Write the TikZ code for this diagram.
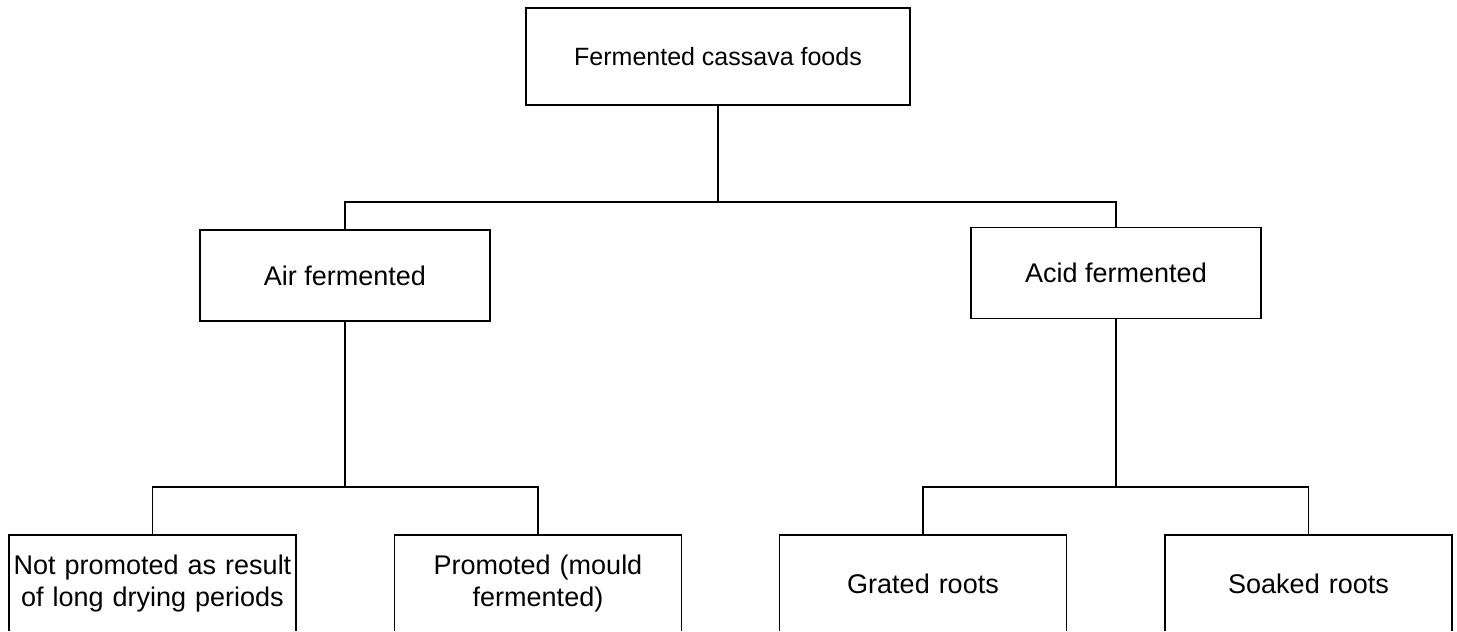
\documentclass[tikz,border=0pt]{standalone}
\usepackage{fontspec}
\setmainfont{Liberation Sans}
\usepackage{tikz}
\usetikzlibrary{positioning}

\tikzset{
    catbox/.style={draw, line width=1.1pt, align=center, inner sep=0pt,
        font=\fontsize{27}{32}\selectfont},
    wide/.style={catbox, minimum width=290pt, minimum height=91pt},
    leaf/.style={catbox, minimum width=287pt, minimum height=98pt, text width=280pt},
    link/.style={line width=1.1pt}
}

\begin{document}
\begin{tikzpicture}[x=1pt, y=-1pt]
            \useasboundingbox (0,0) rectangle (1457,632);
            \clip (0,0) rectangle (1457,630);

            % root
            \node[catbox, minimum width=384pt, minimum height=97pt,
                font=\fontsize{25}{30}\selectfont] (root) at (718,56.5) {Fermented cassava foods};

            % two kinds of fermentation
            \node[wide] (air) at (345,275.5) {Air fermented};
            \node[wide] (acid) at (1116,273) {Acid fermented};

            % leaves (cut off at the bottom edge)
            \node[leaf] (notprom) at (152.5,584) {Not promoted as result\\of long drying periods};
            \node[leaf] (prom) at (538,584) {Promoted (mould\\fermented)};
            \node[leaf] (grated) at (923,584) {Grated roots};
            \node[leaf] (soaked) at (1308.5,584) {Soaked roots};

            % junctions
            \coordinate (J) at (718,202);
            \coordinate (Jair) at (345,487);
            \coordinate (Jacid) at (1116,487);

            \draw[link] (root.south) -- (J);
            \draw[link] (air.north) |- (J) -| (acid.north);
            \draw[link] (air.south) -- (Jair);
            \draw[link] (notprom.north) |- (Jair) -| (prom.north);
            \draw[link] (acid.south) -- (Jacid);
            \draw[link] (grated.north) |- (Jacid) -| (soaked.north);
        \end{tikzpicture}
\end{document}
